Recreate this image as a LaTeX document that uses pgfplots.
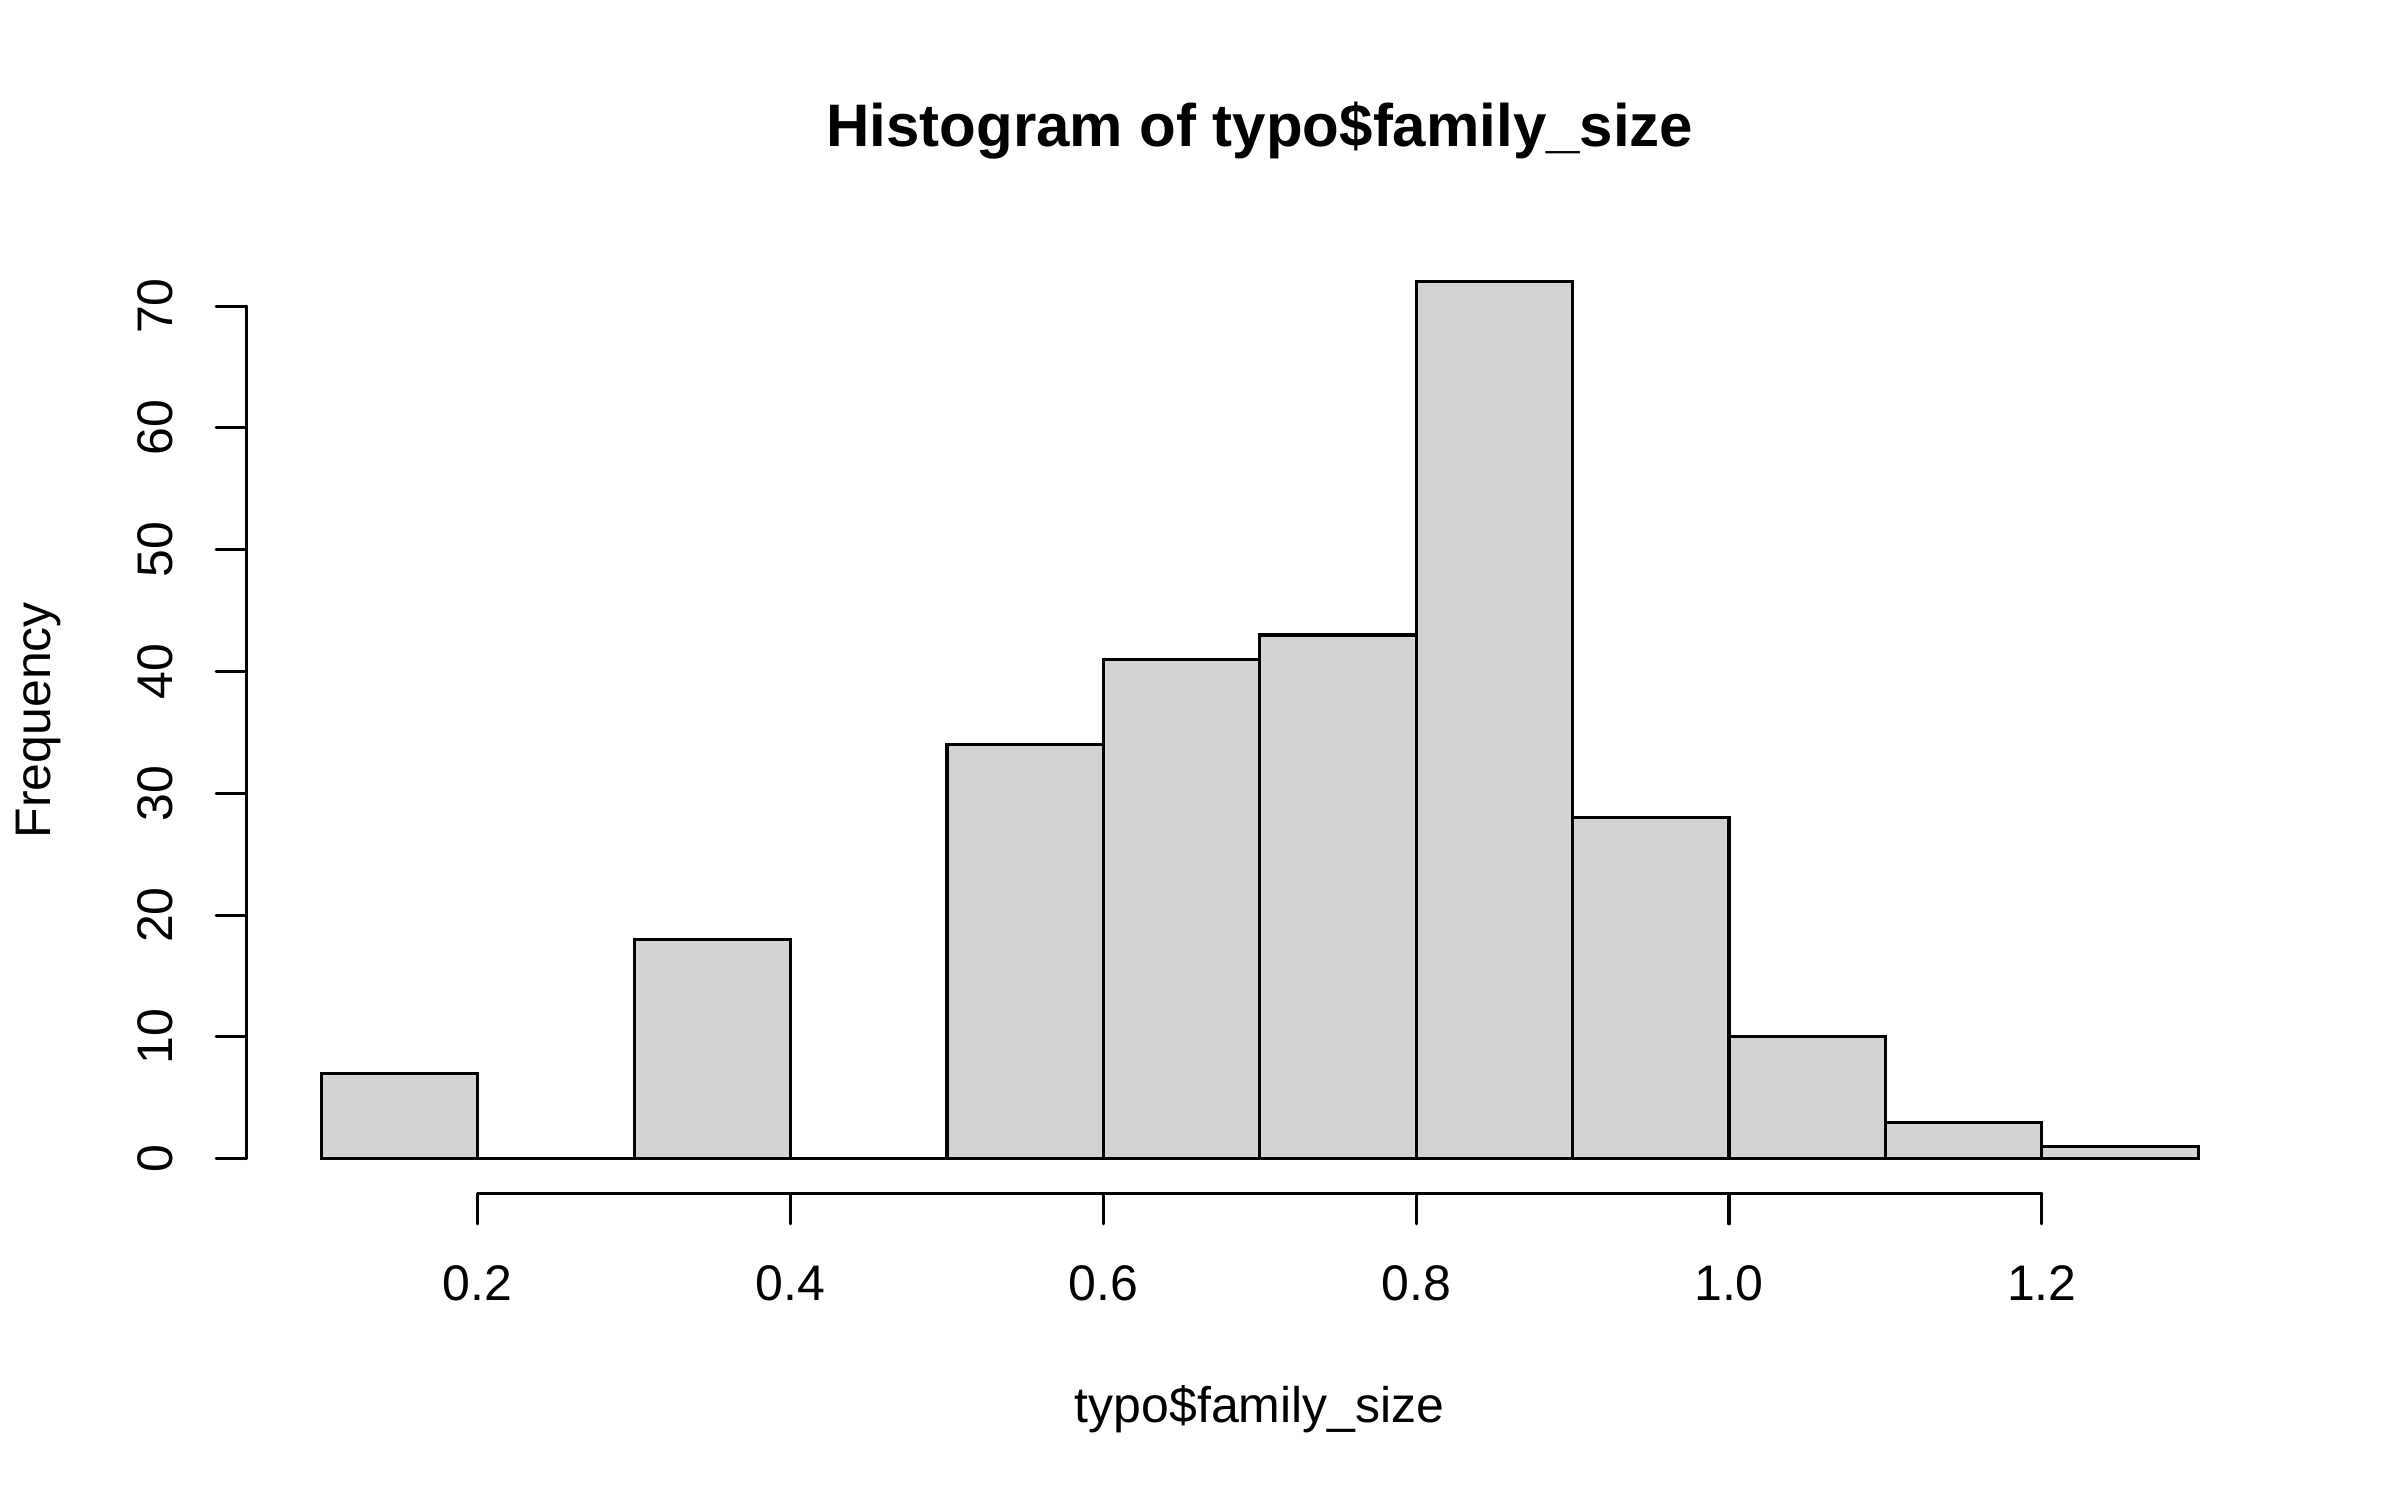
\documentclass[border=0pt]{standalone}
\usepackage{fontspec}
\setmainfont{Liberation Sans}
\usepackage{pgfplots}
\pgfplotsset{compat=1.18}
\definecolor{rlightgray}{HTML}{D3D3D3}
\begin{document}
\begin{tikzpicture}
\path[use as bounding box] (0,0) rectangle (576pt,360pt);
\begin{axis}[
  at={(59.1pt,73.5pt)}, anchor=south west,
  scale only axis, width=486.5pt, height=227.3pt,
  xmin=0.052, xmax=1.348, ymin=-2.88, ymax=74.88,
  axis x line*=bottom, axis y line*=left,
  axis line style={draw=none},
  clip=false,
  xtick={0.2,0.4,0.6,0.8,1.0,1.2},
  xticklabels={0.2,0.4,0.6,0.8,1.0,1.2},
  ytick={0,10,20,30,40,50,60,70},
  tick align=outside,
  major tick length=7.2pt,
  tick style={black, line width=0.75pt, line cap=round},
  /pgf/number format/assume math mode=true,
  tick label style={font=\fontsize{12}{14.4}\selectfont},
  xticklabel style={anchor=center, inner sep=0pt, yshift=-14.2pt},
  yticklabel style={xshift=-14.7pt, rotate=90, anchor=center, inner sep=0pt},
  title={\bfseries Histogram of typo\$family\_size},
  title style={font=\fontsize{14.4}{17}\selectfont, at={(rel axis cs:0.5,1)}, anchor=center, inner sep=0pt, yshift=21.9pt},
  xlabel={typo\$family\_size},
  xlabel style={font=\fontsize{12}{14.4}\selectfont, at={(rel axis cs:0.5,0)}, anchor=center, inner sep=0pt, yshift=-51.8pt},
  ylabel={Frequency},
  every axis y label/.style={font=\fontsize{12}{14.4}\selectfont, at={(rel axis cs:0,0.5)}, xshift=-49.9pt, rotate=90, anchor=center, inner sep=0pt},
]
\addplot[ybar interval, fill=rlightgray, draw=black, line width=0.75pt] coordinates {
  (0.1,7) (0.2,0) (0.3,18) (0.4,0) (0.5,34) (0.6,41) (0.7,43) (0.8,72)
  (0.9,28) (1.0,10) (1.1,3) (1.2,1) (1.3,1)
};
\draw[line width=0.75pt, line cap=round] (axis cs:0.2,-2.88) -- (axis cs:1.2,-2.88);
\draw[line width=0.75pt, line cap=round] (axis cs:0.052,0) -- (axis cs:0.052,70);
\end{axis}
\end{tikzpicture}
\end{document}
